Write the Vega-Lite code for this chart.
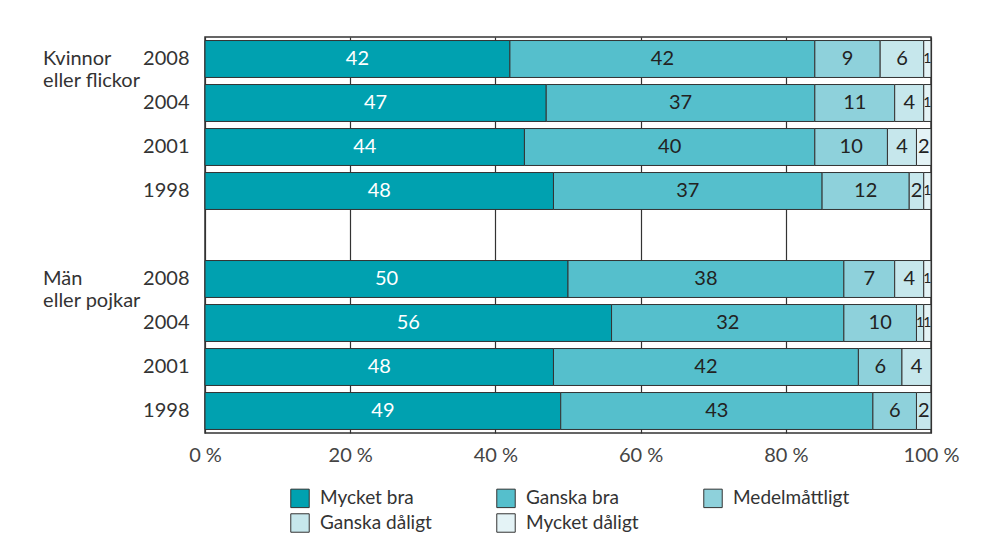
{
  "$schema": "https://vega.github.io/schema/vega-lite/v6.json",
  "width": 726,
  "height": 396,
  "autosize": "none",
  "padding": {"left": 205, "top": 37, "right": 71, "bottom": 118},
  "background": "white",
  "config": {
    "font": "Lato",
    "view": {"stroke": "#333", "strokeWidth": 1.5},
    "text": {"font": "Lato"}
  },
  "datasets": {
    "bars": [
      {"row": "K2008", "cat": "Mycket bra", "ord": 1, "value": 42},
      {"row": "K2008", "cat": "Ganska bra", "ord": 2, "value": 42},
      {"row": "K2008", "cat": "Medelmåttligt", "ord": 3, "value": 9},
      {"row": "K2008", "cat": "Ganska dåligt", "ord": 4, "value": 6},
      {"row": "K2008", "cat": "Mycket dåligt", "ord": 5, "value": 1},
      {"row": "K2004", "cat": "Mycket bra", "ord": 1, "value": 47},
      {"row": "K2004", "cat": "Ganska bra", "ord": 2, "value": 37},
      {"row": "K2004", "cat": "Medelmåttligt", "ord": 3, "value": 11},
      {"row": "K2004", "cat": "Ganska dåligt", "ord": 4, "value": 4},
      {"row": "K2004", "cat": "Mycket dåligt", "ord": 5, "value": 1},
      {"row": "K2001", "cat": "Mycket bra", "ord": 1, "value": 44},
      {"row": "K2001", "cat": "Ganska bra", "ord": 2, "value": 40},
      {"row": "K2001", "cat": "Medelmåttligt", "ord": 3, "value": 10},
      {"row": "K2001", "cat": "Ganska dåligt", "ord": 4, "value": 4},
      {"row": "K2001", "cat": "Mycket dåligt", "ord": 5, "value": 2},
      {"row": "K1998", "cat": "Mycket bra", "ord": 1, "value": 48},
      {"row": "K1998", "cat": "Ganska bra", "ord": 2, "value": 37},
      {"row": "K1998", "cat": "Medelmåttligt", "ord": 3, "value": 12},
      {"row": "K1998", "cat": "Ganska dåligt", "ord": 4, "value": 2},
      {"row": "K1998", "cat": "Mycket dåligt", "ord": 5, "value": 1},
      {"row": "M2008", "cat": "Mycket bra", "ord": 1, "value": 50},
      {"row": "M2008", "cat": "Ganska bra", "ord": 2, "value": 38},
      {"row": "M2008", "cat": "Medelmåttligt", "ord": 3, "value": 7},
      {"row": "M2008", "cat": "Ganska dåligt", "ord": 4, "value": 4},
      {"row": "M2008", "cat": "Mycket dåligt", "ord": 5, "value": 1},
      {"row": "M2004", "cat": "Mycket bra", "ord": 1, "value": 56},
      {"row": "M2004", "cat": "Ganska bra", "ord": 2, "value": 32},
      {"row": "M2004", "cat": "Medelmåttligt", "ord": 3, "value": 10},
      {"row": "M2004", "cat": "Ganska dåligt", "ord": 4, "value": 1},
      {"row": "M2004", "cat": "Mycket dåligt", "ord": 5, "value": 1},
      {"row": "M2001", "cat": "Mycket bra", "ord": 1, "value": 48},
      {"row": "M2001", "cat": "Ganska bra", "ord": 2, "value": 42},
      {"row": "M2001", "cat": "Medelmåttligt", "ord": 3, "value": 6},
      {"row": "M2001", "cat": "Ganska dåligt", "ord": 4, "value": 4},
      {"row": "M1998", "cat": "Mycket bra", "ord": 1, "value": 49},
      {"row": "M1998", "cat": "Ganska bra", "ord": 2, "value": 43},
      {"row": "M1998", "cat": "Medelmåttligt", "ord": 3, "value": 6},
      {"row": "M1998", "cat": "Ganska dåligt", "ord": 4, "value": 2}
    ],
    "groups": [
      {"row": "K2008", "label": ["Kvinnor", "eller flickor"], "pos": -22.3},
      {"row": "M2008", "label": ["Män", "eller pojkar"], "pos": -22.3}
    ]
  },
  "encoding": {
    "y": {
      "field": "row",
      "type": "nominal",
      "scale": {
        "domain": ["K2008", "K2004", "K2001", "K1998", "gap", "M2008", "M2004", "M2001", "M1998"],
        "paddingInner": 0.16,
        "paddingOuter": 0.08
      },
      "axis": {
        "title": null,
        "domain": false,
        "ticks": false,
        "labelExpr": "datum.value == 'gap' ? '' : slice(datum.value, 1)",
        "labelFontSize": 20,
        "labelColor": "#333",
        "labelPadding": 16,
        "labelFont": "Lato"
      }
    }
  },
  "layer": [
    {
      "data": {"name": "bars"},
      "mark": {"type": "bar", "stroke": "#333", "strokeWidth": 1},
      "encoding": {
        "x": {
          "field": "value",
          "type": "quantitative",
          "stack": "zero",
          "scale": {"domain": [0, 100], "nice": false},
          "axis": {
            "title": null,
            "values": [0, 20, 40, 60, 80, 100],
            "grid": true,
            "gridColor": "#333",
            "gridWidth": 1.2,
            "gridOpacity": 1,
            "domain": false,
            "ticks": false,
            "labelFlush": false,
            "labelExpr": "datum.value + ' %'",
            "labelFontSize": 20,
            "labelColor": "#444",
            "labelPadding": 12,
            "labelFont": "Lato"
          }
        },
        "color": {
          "field": "cat",
          "type": "nominal",
          "scale": {
            "domain": ["Mycket bra", "Ganska bra", "Medelmåttligt", "Ganska dåligt", "Mycket dåligt"],
            "range": ["#00a1b0", "#55bfcc", "#8ed1db", "#c6e7ec", "#e4f3f6"]
          },
          "legend": {
            "title": null,
            "orient": "none",
            "legendX": 85,
            "legendY": 451,
            "direction": "horizontal",
            "columns": 3,
            "symbolType": "square",
            "symbolSize": 340,
            "symbolStrokeColor": "#333",
            "symbolStrokeWidth": 1,
            "symbolOpacity": 1,
            "labelFontSize": 19,
            "labelColor": "#333",
            "labelFont": "Lato",
            "labelOffset": 10,
            "rowPadding": 1,
            "columnPadding": 62
          }
        },
        "order": {"field": "ord", "type": "quantitative"}
      }
    },
    {
      "data": {"name": "bars"},
      "transform": [
        {"stack": "value", "groupby": ["row"], "sort": [{"field": "ord"}], "as": ["x0", "x1"]},
        {"calculate": "(datum.x0 + datum.x1) / 2", "as": "mid"}
      ],
      "mark": {"type": "text", "baseline": "middle", "align": "center"},
      "encoding": {
        "x": {"field": "mid", "type": "quantitative"},
        "text": {"field": "value", "type": "quantitative"},
        "size": {
          "condition": {"test": "datum.value <= 1", "value": 14},
          "value": 20
        },
        "color": {
          "condition": {"test": "datum.cat == 'Mycket bra'", "value": "#ffffff"},
          "value": "#222222"
        }
      }
    },
    {
      "data": {"name": "groups"},
      "mark": {"type": "text", "fontSize": 20, "align": "left", "baseline": "middle", "lineHeight": 22, "color": "#333"},
      "encoding": {
        "x": {"field": "pos", "type": "quantitative"},
        "text": {"field": "label"}
      }
    }
  ]
}
